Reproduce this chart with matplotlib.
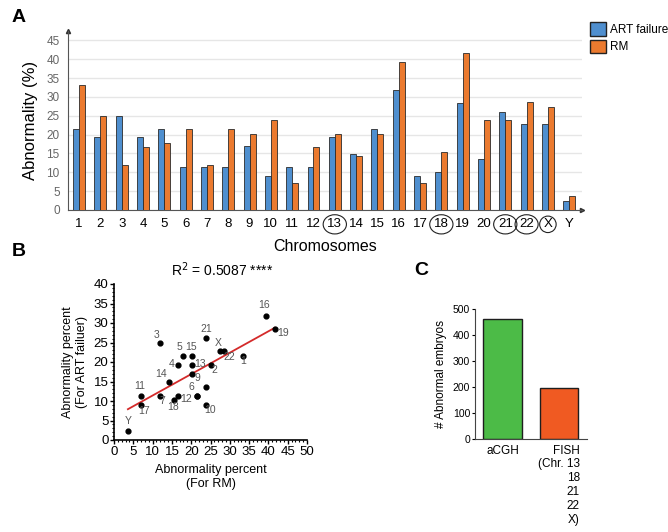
import numpy as np
import matplotlib
matplotlib.use('Agg')
import matplotlib.pyplot as plt
from matplotlib.patches import Patch
from matplotlib.ticker import MultipleLocator

plt.rcParams['font.family'] = ['Liberation Sans', 'DejaVu Sans']

chromosomes = ['1', '2', '3', '4', '5', '6', '7', '8', '9', '10', '11', '12',
               '13', '14', '15', '16', '17', '18', '19', '20', '21', '22', 'X', 'Y']
art_failure = [21.6, 19.3, 25.0, 19.3, 21.6, 11.4, 11.4, 11.4, 17.0, 9.1, 11.4, 11.4,
               19.3, 14.8, 21.6, 31.8, 9.1, 10.2, 28.4, 13.6, 26.1, 22.7, 22.7, 2.3]
rm = [33.3, 25.0, 11.9, 16.7, 17.9, 21.4, 11.9, 21.4, 20.2, 23.8, 7.1, 16.7,
      20.2, 14.3, 20.2, 39.3, 7.1, 15.5, 41.7, 23.8, 23.8, 28.6, 27.4, 3.6]
circled = ['13', '18', '21', '22', 'X']

# panel C
methods = ['aCGH', 'FISH\n(Chr. 13\n18\n21\n22\nX)']
n_abnormal = [462, 196]

blue = '#4f8fcf'
orange = '#eb7a2f'

fig = plt.figure(figsize=(6.68, 5.32), dpi=100)

def fx(px):
    return px / 668

def fy(py):
    return 1 - py / 532

# ---------------- panel A ----------------
axA = fig.add_axes([fx(68), fy(210), fx(582 - 68), (210 - 31) / 532])
x = np.arange(len(chromosomes))
w = 0.28
axA.bar(x - w / 2, art_failure, w, color=blue, edgecolor='#2b2b2b', linewidth=0.6, zorder=3)
axA.bar(x + w / 2, rm, w, color=orange, edgecolor='#2b2b2b', linewidth=0.6, zorder=3)
axA.set_xlim(-0.52, 23.6)
axA.set_ylim(0, 47.5)
axA.set_yticks(np.arange(0, 46, 5))
axA.yaxis.grid(True, color='#e6e6e6', linewidth=1.0, zorder=0)
axA.set_axisbelow(True)
for s in ['top', 'right']:
    axA.spines[s].set_visible(False)
axA.spines['left'].set_color('#555555')
axA.spines['bottom'].set_color('#555555')
axA.tick_params(axis='y', length=0, labelsize=8.5, labelcolor='#666666', pad=6)
axA.tick_params(axis='x', length=0, labelsize=9.5, pad=6)
axA.set_xticks(x)
axA.set_xticklabels(chromosomes)
for lab in axA.get_xticklabels():
    t = lab.get_text()
    if t == 'X':
        lab.set_bbox(dict(boxstyle='circle,pad=0.17', fc='none', ec='#222222', lw=0.8))
    elif t in circled:
        lab.set_bbox(dict(boxstyle='ellipse,pad=0.06', fc='none', ec='#222222', lw=0.8))
axA.plot(1, 0, '>', color='#333333', markersize=3, transform=axA.transAxes, clip_on=False)
axA.plot(0, 1, '^', color='#333333', markersize=3, transform=axA.transAxes, clip_on=False)
axA.set_ylabel('Abnormality (%)', fontsize=12, labelpad=6)
axA.set_xlabel('Chromosomes', fontsize=11.5, labelpad=6)
fig.legend(handles=[Patch(fc=blue, ec='#222222', lw=1.0, label='ART failure'),
                    Patch(fc=orange, ec='#222222', lw=1.0, label='RM')],
           loc='upper left', bbox_to_anchor=(fx(582), fy(14)), frameon=False,
           fontsize=8.5, handlelength=1.3, handleheight=1.4, handletextpad=0.35,
           labelspacing=0.3, borderpad=0.2)

# ---------------- panel B ----------------
axB = fig.add_axes([fx(114), fy(440), fx(307 - 114), (440 - 284) / 532])
axB.scatter(rm, art_failure, s=12, color='black', zorder=3)
slope, icpt = np.polyfit(rm, art_failure, 1)
xl = np.array([min(rm), max(rm)])
axB.plot(xl, slope * xl + icpt, color='#d42a2a', lw=1.3, zorder=2)
axB.set_xlim(0, 50)
axB.set_ylim(0, 40)
axB.xaxis.set_major_locator(MultipleLocator(5))
axB.yaxis.set_major_locator(MultipleLocator(5))
axB.xaxis.set_minor_locator(MultipleLocator(1))
axB.yaxis.set_minor_locator(MultipleLocator(1))
for s in ['top', 'right']:
    axB.spines[s].set_visible(False)
for s in ['left', 'bottom']:
    axB.spines[s].set_linewidth(1.2)
axB.tick_params(which='major', length=3, width=1.0, labelsize=9.5, pad=1)
axB.tick_params(which='minor', length=1.5, width=0.8)
axB.set_xlabel('Abnormality percent\n(For RM)', fontsize=9, labelpad=5)
axB.set_ylabel('Abnormality percent\n(For ART failuer)', fontsize=9, labelpad=4)

# label offsets (in data units) for each point
offsets = {'1': (0.2, -2.6), '2': (1.0, -2.6), '3': (-1.0, 0.6), '4': (-1.9, -1.0),
           '5': (-0.9, 1.0), '6': (-1.3, 0.8), '7': (0.6, -2.7), '9': (1.4, -2.4),
           '10': (1.1, -2.6), '11': (-0.4, 1.1), '12': (2.0, -2.2), '13': (2.0, -1.0),
           '14': (-2.0, 0.8), '15': (-0.2, 1.0), '16': (-0.4, 1.5), '17': (0.6, -2.9),
           '18': (-0.2, -2.9), '19': (2.2, -2.2), '20': (0, 0), '21': (0, 1.2),
           '22': (1.2, -2.6), 'X': (-0.3, 1.0), 'Y': (0, 1.3)}
for name, xv, yv in zip(chromosomes, rm, art_failure):
    if name in ('8', '20'):
        continue
    dx, dy = offsets[name]
    axB.text(xv + dx, yv + dy, name, fontsize=7.5, color='#555555', ha='center', va='bottom')
fig.text(fx(222), fy(270), 'R$^2$ = 0.5087 ****', fontsize=10, ha='center', va='center')

# ---------------- panel C ----------------
axC = fig.add_axes([fx(475), fy(439), fx(587 - 475), (439 - 309) / 532])
axC.bar([0, 1], n_abnormal, 0.68, color=['#4cbb47', '#f05a22'], edgecolor='#1e1e1e', linewidth=1.0)
axC.set_xlim(-0.49, 1.5)
axC.set_ylim(0, 500)
axC.yaxis.set_major_locator(MultipleLocator(100))
for s in ['top', 'right']:
    axC.spines[s].set_visible(False)
axC.spines['left'].set_color('#444444')
axC.spines['bottom'].set_color('#444444')
axC.tick_params(axis='y', length=2.5, labelsize=7.5, pad=1)
axC.tick_params(axis='x', length=0, labelsize=8.5, pad=4)
axC.set_xticks([0, 1])
axC.set_xticklabels(methods)
for lab in axC.get_xticklabels():
    lab.set_multialignment('right')
axC.set_ylabel('# Abnormal embryos', fontsize=8.5, labelpad=4)

# panel letters
fig.text(fx(12), fy(17), 'A', fontsize=14, fontweight='bold', va='center')
fig.text(fx(12), fy(252), 'B', fontsize=14, fontweight='bold', va='center')
fig.text(fx(414), fy(270), 'C', fontsize=14, fontweight='bold', va='center')

fig.savefig('out.png', dpi=100)
